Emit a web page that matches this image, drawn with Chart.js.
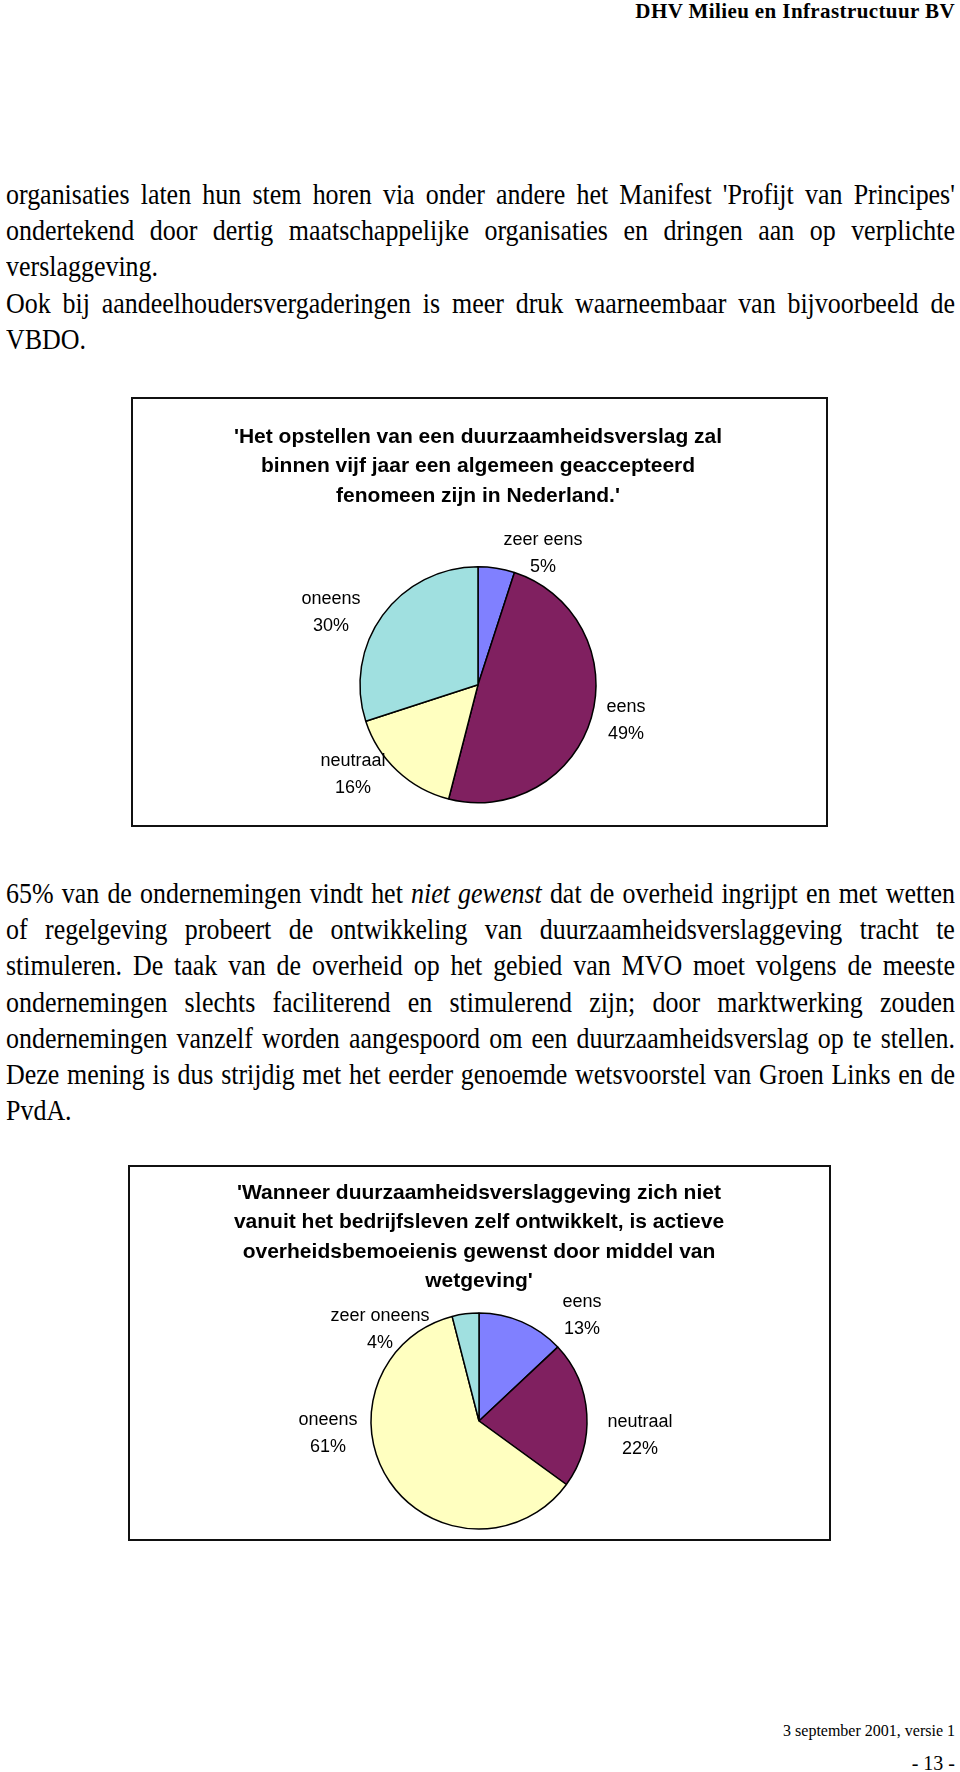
<!DOCTYPE html>
<html lang="nl">
<head>
<meta charset="utf-8">
<script src="https://cdn.jsdelivr.net/npm/chart.js@4/dist/chart.umd.min.js"></script>
<style>
  html, body { margin: 0; padding: 0; background: #fff; }
  body { width: 960px; height: 1772px; position: relative; overflow: hidden; color: #000; }
  .serif { font-family: "Liberation Serif", "Times New Roman", serif; }
  .abs { position: absolute; }
  .header { right: 5px; top: 0; font-size: 21px; line-height: 22px; font-weight: bold; letter-spacing: 0.4px; }
  .para { left: 6px; width: 1097px; font-size: 30px; line-height: 36.2px; transform: scaleX(0.865); transform-origin: 0 0; }
  .para .j { text-align: justify; text-align-last: justify; }
  .box { border: 2px solid #111; box-sizing: border-box; pointer-events: none; }
  .foot1 { right: 5px; top: 1721px; font-size: 16px; line-height: 20px; }
  .foot2 { right: 5px; top: 1751px; font-size: 20px; line-height: 24px; }
</style>
</head>
<body>
<div class="abs serif header">DHV Milieu en Infrastructuur BV</div>

<div class="abs serif para" style="top:176px">
  <div class="j">organisaties laten hun stem horen via onder andere het Manifest 'Profijt van Principes'</div>
  <div class="j">ondertekend door dertig maatschappelijke organisaties en dringen aan op verplichte</div>
  <div>verslaggeving.</div>
  <div class="j">Ook bij aandeelhoudersvergaderingen is meer druk waarneembaar van bijvoorbeeld de</div>
  <div>VBDO.</div>
</div>

<canvas id="pie1" class="abs" style="left:131px; top:397px"></canvas>
<div class="abs box" style="left:131px; top:397px; width:697px; height:430px"></div>

<div class="abs serif para" style="top:875px">
  <div class="j">65% van de ondernemingen vindt het <i>niet gewenst</i> dat de overheid ingrijpt en met wetten</div>
  <div class="j">of regelgeving probeert de ontwikkeling van duurzaamheidsverslaggeving tracht te</div>
  <div class="j">stimuleren. De taak van de overheid op het gebied van MVO moet volgens de meeste</div>
  <div class="j">ondernemingen slechts faciliterend en stimulerend zijn; door marktwerking zouden</div>
  <div class="j">ondernemingen vanzelf worden aangespoord om een duurzaamheidsverslag op te stellen.</div>
  <div class="j">Deze mening is dus strijdig met het eerder genoemde wetsvoorstel van Groen Links en de</div>
  <div>PvdA.</div>
</div>

<canvas id="pie2" class="abs" style="left:128px; top:1165px"></canvas>
<div class="abs box" style="left:128px; top:1165px; width:703px; height:376px"></div>

<div class="abs serif foot1">3 september 2001, versie 1</div>
<div class="abs serif foot2">- 13 -</div>

<script>
// chart 1: 'Het opstellen van een duurzaamheidsverslag ...'
const pie1Title = [
    "'Het opstellen van een duurzaamheidsverslag zal",
    "binnen vijf jaar een algemeen geaccepteerd",
    "fenomeen zijn in Nederland.'"
];
const pie1Labels = ['zeer eens', 'eens', 'neutraal', 'oneens'];
const pie1Values = [5, 49, 16, 30];

// chart 2: 'Wanneer duurzaamheidsverslaggeving ...'
const pie2Title = [
    "'Wanneer duurzaamheidsverslaggeving zich niet",
    "vanuit het bedrijfsleven zelf ontwikkelt, is actieve",
    "overheidsbemoeienis gewenst door middel van",
    "wetgeving'"
];
const pie2Labels = ['eens', 'neutraal', 'oneens', 'zeer oneens'];
const pie2Values = [13, 22, 61, 4];

// slice colours, same order in both charts
const sliceColors = ['#8080FF', '#802060', '#FFFFC0', '#A0E0E0'];

// where the data labels sit, px from the pie centre (Excel style placement)
const pie1LabelOffsets = [[65, -131], [148, 36], [-125, 90], [-147, -72]];
const pie2LabelOffsets = [[103, -105], [161, 15], [-151, 13], [-99, -91]];

const outsideLabels = {
    id: 'outsideLabels',
    afterDatasetsDraw(chart, args, opts) {
        const ctx = chart.ctx;
        const meta = chart.getDatasetMeta(0);
        const values = chart.data.datasets[0].data;
        ctx.save();
        ctx.font = '18px "Liberation Sans", Arial, sans-serif';
        ctx.fillStyle = '#000';
        ctx.textAlign = 'center';
        ctx.textBaseline = 'middle';
        meta.data.forEach((arc, i) => {
            const [dx, dy] = opts.offsets[i];
            const x = arc.x + dx;
            const y = arc.y + dy;
            ctx.fillText(chart.data.labels[i], x, y - 13.5);
            ctx.fillText(values[i] + '%', x, y + 13.5);
        });
        ctx.restore();
    }
};

function makePie(id, w, h, title, labels, values, radius, offsets, titlePad, layoutPad) {
    const canvas = document.getElementById(id);
    canvas.width = w;
    canvas.height = h;
    canvas.style.width = w + 'px';
    canvas.style.height = h + 'px';
    return new Chart(canvas, {
        type: 'pie',
        data: {
            labels: labels,
            datasets: [{
                data: values,
                backgroundColor: sliceColors,
                borderColor: '#000',
                borderWidth: 1.5,
                radius: radius
            }]
        },
        options: {
            responsive: false,
            animation: false,
            layout: { padding: layoutPad },
            plugins: {
                legend: { display: false },
                tooltip: { enabled: false },
                title: {
                    display: true,
                    text: title,
                    color: '#000',
                    font: { family: '"Liberation Sans", Arial, sans-serif', size: 21, weight: 'bold', lineHeight: 1.405 },
                    padding: titlePad
                },
                outsideLabels: { offsets: offsets }
            }
        },
        plugins: [outsideLabels]
    });
}

makePie('pie1', 697, 430, pie1Title, pie1Labels, pie1Values, 118, pie1LabelOffsets,
    { top: 25, bottom: 32 }, { left: 0, right: 3, top: 0, bottom: 0 });
makePie('pie2', 703, 376, pie2Title, pie2Labels, pie2Values, 108, pie2LabelOffsets,
    { top: 13, bottom: 5 }, { left: 0, right: 1, top: 0, bottom: 0 });
</script>
</body>
</html>
